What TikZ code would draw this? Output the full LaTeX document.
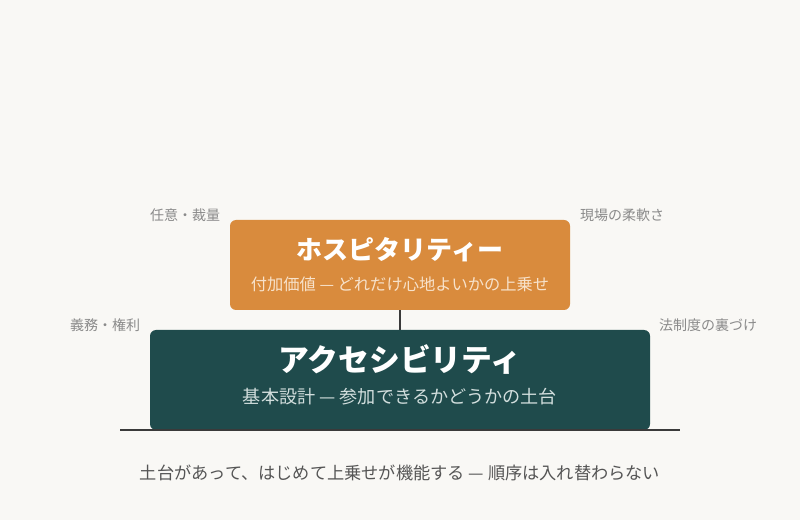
\documentclass[tikz,border=0pt]{standalone}
\usepackage{fontspec}
\setmainfont{Noto Sans CJK JP}
\usetikzlibrary{positioning,backgrounds}
\definecolor{paper}{HTML}{F9F8F5}
\definecolor{hospor}{HTML}{D98B3D}
\definecolor{accgreen}{HTML}{1F4B4C}
\definecolor{sidegray}{HTML}{8A8A8A}
\definecolor{inkgray}{HTML}{555555}
\definecolor{linegray}{HTML}{3A3A3A}
\definecolor{hospsub}{HTML}{F7E2CB}
\definecolor{accsub}{HTML}{D2DEDD}
\tikzset{x=0.75pt, y=-0.75pt}
\tikzset{layer/.style={rectangle, rounded corners=4.5pt, inner sep=0pt}}
\tikzset{ttl/.style={text=white, font=\bfseries}}
\tikzset{side/.style={text=sidegray, inner sep=0pt, font=\fontsize{10.5}{12}\selectfont}}
\tikzset{bar/.style={draw=linegray, line width=1.5pt}}
\begin{document}
\begin{tikzpicture}
        \fill[paper] (0,0) rectangle (800,520);
        \useasboundingbox (0,0) rectangle (800,520);
        % base line and joint
        \coordinate (gl) at (120,430);
        \coordinate (gr) at (680,430);
        \node (acc) [layer, fill=accgreen, minimum width=375pt, minimum height=75pt] at (400,380) {};
        \node (hosp) [layer, fill=hospor, minimum width=255pt, minimum height=67.5pt] at (400,265) {};
        \draw[bar] (hosp.south) -- (acc.north);
        \draw[bar] (gl) -- (gr);
        % texts of the two layers
        \node (hospT) [ttl, font=\bfseries\fontsize{19.5}{22}\selectfont] at (400,250) {ホスピタリティー};
        \node (hospS) [text=hospsub, font=\fontsize{12.2}{14}\selectfont] at (400,284) {付加価値 — どれだけ心地よいかの上乗せ};
        \node (accT) [ttl, font=\bfseries\fontsize{23.1}{26}\selectfont] at (400,360) {アクセシビリティ};
        \node (accS) [text=accsub, font=\fontsize{13.6}{15}\selectfont] at (400,397) {基本設計 — 参加できるかどうかの土台};
        % side notes
        \node (hospL) [side] at (185,215) {任意・裁量};
        \node (hospR) [side] at (622,215) {現場の柔軟さ};
        \node (accL) [side] at (105,325) {義務・権利};
        \node (accR) [side] at (708,325) {法制度の裏づけ};
        \node (note) [text=inkgray, font=\fontsize{12.9}{15}\selectfont] at (400,473) {土台があって、はじめて上乗せが機能する — 順序は入れ替わらない};
\end{tikzpicture}
\end{document}
